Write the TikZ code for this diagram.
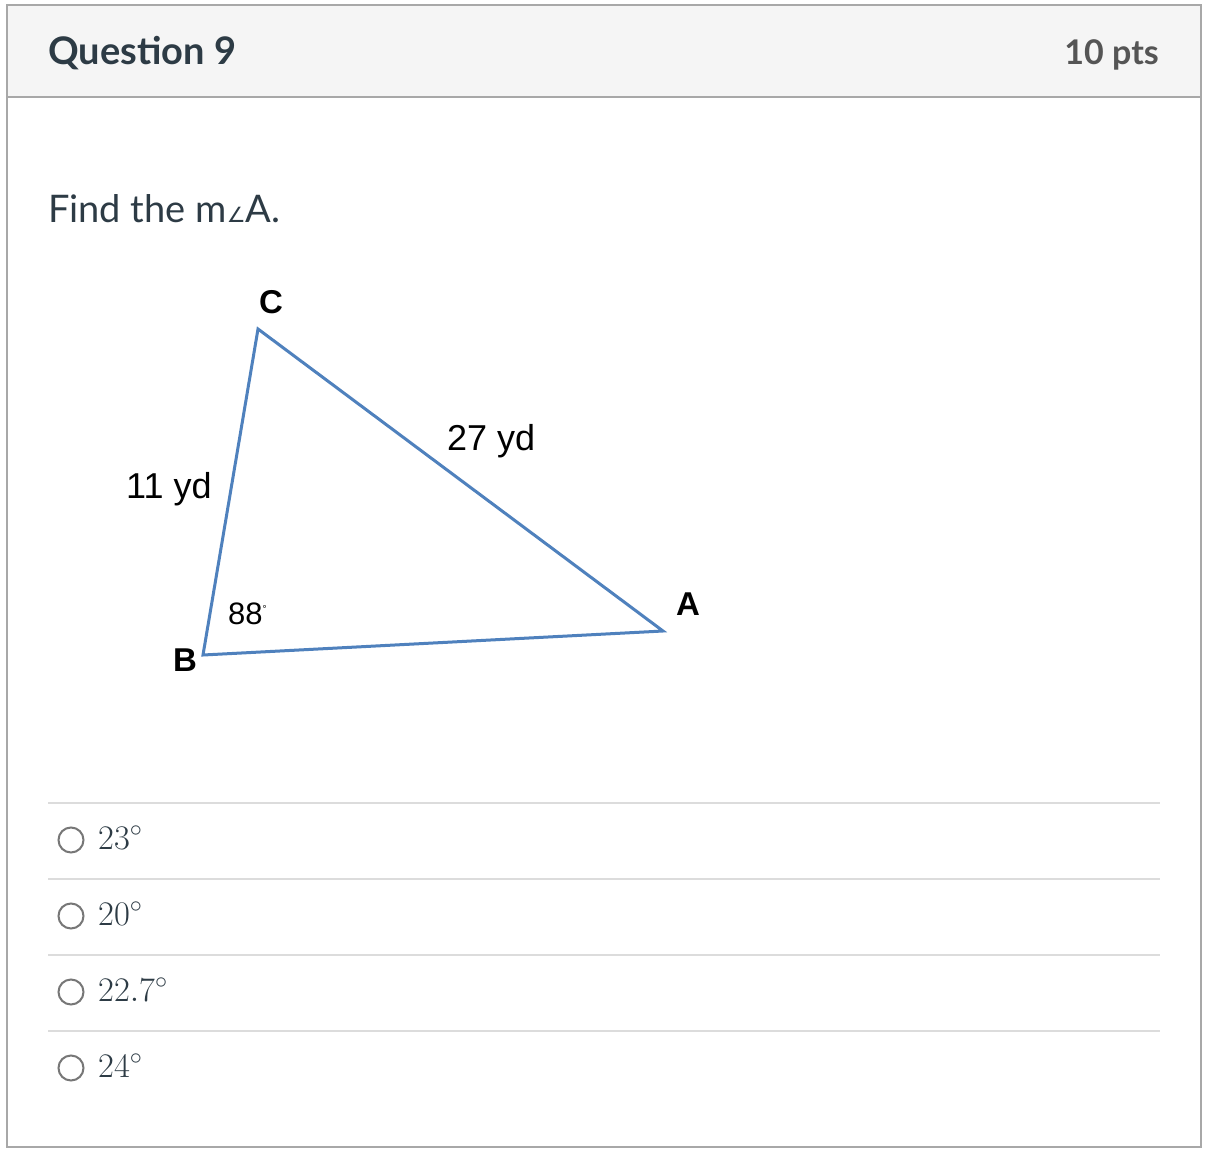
\RequirePackage{fix-cm}
\documentclass[tikz,border=0pt]{standalone}
\usepackage[no-math]{fontspec}
\setmainfont{Lato}
\newfontfamily\arialfont{Liberation Sans}
\newfontfamily\dejavufont{DejaVu Sans}
\usepackage{tikz}
\usetikzlibrary{calc}

\definecolor{canvastext}{HTML}{2D3B45}
\definecolor{ptsgray}{HTML}{555555}
\definecolor{headfill}{HTML}{F5F5F5}
\definecolor{boxline}{HTML}{A8A8A8}
\definecolor{rowline}{HTML}{DCDCDC}
\definecolor{radiogray}{HTML}{777777}
\definecolor{triblue}{HTML}{4F81BD}

\tikzset{
    ptlabel/.style={font=\arialfont\bfseries\fontsize{33}{33}\selectfont, inner sep=0pt},
    sidelabel/.style={font=\arialfont\fontsize{36}{36}\selectfont, anchor=base west, inner sep=0pt},
    radio/.style={circle, draw=radiogray, line width=2pt, minimum size=25pt, inner sep=0pt},
}

\begin{document}
\begin{tikzpicture}[x=1pt,y=-1pt]
        \useasboundingbox (0,0) rectangle (1210,1162);
        % card and header
        \fill [white] (0,0) rectangle (1210,1162);
        \fill [headfill] (7,5) rectangle (1201,97);
        \draw [boxline, line width=2pt] (7,5) rectangle (1201,1147);
        \draw [boxline, line width=2pt] (7,97) -- (1201,97);
        \node [anchor=base west, inner sep=0pt, text=canvastext] (title) at (48,64)
            {\fontsize{38}{40}\selectfont\bfseries Question 9};
        \node [anchor=base east, inner sep=0pt, text=ptsgray] (pts) at (1159,64)
            {\fontsize{34}{40}\selectfont\bfseries 10 pts};
        \node [anchor=base west, inner sep=0pt, text=canvastext] (question) at (48,222)
            {\fontsize{38}{40}\selectfont Find the m{\dejavufont\fontsize{21}{21}\selectfont ∠}A.};
        % triangle
        \coordinate (C) at (258,329);
        \coordinate (B) at (203,655);
        \coordinate (A) at (663,631);
        \draw [triblue, line width=3pt] (B) -- (C) -- (A) -- cycle;
        \node [ptlabel] (labC) at (271,302) {C};
        \node [ptlabel] (labA) at (688,604) {A};
        \node [ptlabel] (labB) at (185,660) {B};
        \node [sidelabel] (sideCA) at (447,450) {27 yd};
        \node [sidelabel] (sideBC) at (126,498) {11 yd};
        \node [sidelabel, font=\arialfont\fontsize{31}{31}\selectfont] (angB) at (228,624)
            {88\raisebox{12pt}{\fontsize{10}{10}\selectfont °}};
        % answers
        \foreach \val [count=\i] in {23,20,22.7,24} {
            \draw [rowline, line width=2pt] (48,{803+76*(\i-1)}) -- (1160,{803+76*(\i-1)});
            \node [radio] (radio\i) at (71,{840+76*(\i-1)}) {};
            \node [anchor=base west, inner sep=0pt, text=canvastext] (answer\i) at (98,{849+76*(\i-1)})
                {\fontsize{34.5}{36}\selectfont$\val^\circ$};
        }
    \end{tikzpicture}
\end{document}
